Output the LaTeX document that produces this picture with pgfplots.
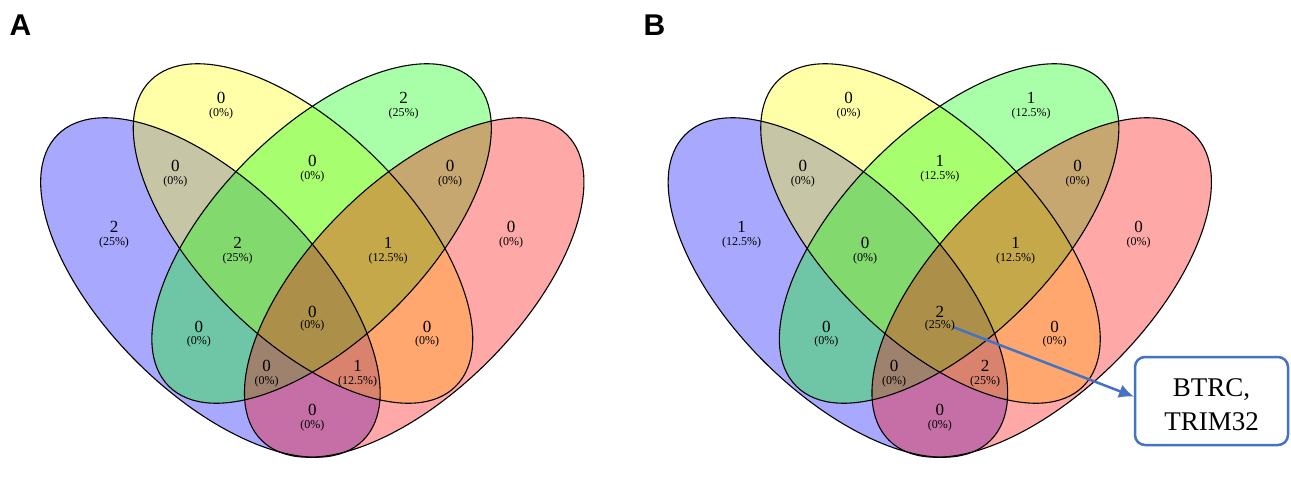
\documentclass[border=0pt]{standalone}
\usepackage{pgfplots}
\pgfplotsset{compat=1.18}
\usepackage{pgfplotstable}
\usepackage{fontspec}
\setmainfont{Liberation Serif}
\newfontfamily\headfont{Liberation Sans}
\usetikzlibrary{arrows.meta}

\definecolor{vblue}{RGB}{0,0,255}
\definecolor{vyellow}{RGB}{255,255,0}
\definecolor{vgreen}{RGB}{0,255,0}
\definecolor{vred}{RGB}{255,0,0}
\definecolor{boxblue}{RGB}{68,114,196}

% region label positions (x, y of count, y of percent), count, percent
\pgfplotstableread{
x     yn    yp    n  p
114   231   215   2  25
221   360   344   0  0
403.7 360   344   2  25
511   231   215   0  0
175.4 292   276   0  0
312.3 297   281   0  0
450   292   276   0  0
237.7 215   199   2  25
388   215   199   1  12.5
198.8 131   116   0  0
427   131   116   0  0
312.3 146   132   0  0
266.7 92    76   0  0
357.5 92    76   1  12.5
312.3 48    32   0  0
}\vennA

\pgfplotstableread{
x      yn    yp    n  p
741.5  231   215   1  12.5
848.5  360   344   0  0
1031.2 360   344   1  12.5
1138.5 231   215   0  0
802.9  292   276   0  0
939.8  297   281   1  12.5
1077.5 292   276   0  0
865.2  215   199   0  0
1015.5 215   199   1  12.5
826.3  131   116   0  0
1054.5 131   116   0  0
939.8  146   132   2  25
894.2  92    76   0  0
985    92    76   2  25
939.8  48    32   0  0
}\vennB

\pgfplotsset{
  cnt/.style={draw=none, mark=none, nodes near coords, point meta=explicit symbolic,
    nodes near coords style={anchor=center, inner sep=0pt, font=\fontsize{17}{17}\selectfont}},
  pct/.style={draw=none, mark=none, nodes near coords={(\pgfplotspointmeta\%)}, point meta=explicit symbolic,
    nodes near coords style={anchor=center, inner sep=0pt, font=\fontsize{12}{12}\selectfont}},
}

\begin{document}
\begin{tikzpicture}
\begin{axis}[
    x=1pt, y=1pt,
    xmin=0, xmax=1291, ymin=0, ymax=458,
    hide axis, clip=false,
]
\addplot[draw=none, mark=none] coordinates {(0,0) (1291,458)};

% panel A fills
\fill[vblue, fill opacity=0.34, rotate around={-45:(axis cs:210.4,170.5)}] (axis cs:210.4,170.5) ellipse [x radius=216pt, y radius=104.6pt];
\fill[vyellow, fill opacity=0.34, rotate around={-45:(axis cs:303,224.5)}] (axis cs:303,224.5) ellipse [x radius=216pt, y radius=104.6pt];
\fill[vgreen, fill opacity=0.34, rotate around={45:(axis cs:321.6,224.5)}] (axis cs:321.6,224.5) ellipse [x radius=216pt, y radius=104.6pt];
\fill[vred, fill opacity=0.34, rotate around={45:(axis cs:414.2,170.5)}] (axis cs:414.2,170.5) ellipse [x radius=216pt, y radius=104.6pt];
% panel A outlines
\draw[line width=1.1pt, rotate around={-45:(axis cs:210.4,170.5)}] (axis cs:210.4,170.5) ellipse [x radius=216pt, y radius=104.6pt];
\draw[line width=1.1pt, rotate around={-45:(axis cs:303,224.5)}] (axis cs:303,224.5) ellipse [x radius=216pt, y radius=104.6pt];
\draw[line width=1.1pt, rotate around={45:(axis cs:321.6,224.5)}] (axis cs:321.6,224.5) ellipse [x radius=216pt, y radius=104.6pt];
\draw[line width=1.1pt, rotate around={45:(axis cs:414.2,170.5)}] (axis cs:414.2,170.5) ellipse [x radius=216pt, y radius=104.6pt];

% panel B fills
\fill[vblue, fill opacity=0.34, rotate around={-45:(axis cs:837.9,170.5)}] (axis cs:837.9,170.5) ellipse [x radius=216pt, y radius=104.6pt];
\fill[vyellow, fill opacity=0.34, rotate around={-45:(axis cs:930.5,224.5)}] (axis cs:930.5,224.5) ellipse [x radius=216pt, y radius=104.6pt];
\fill[vgreen, fill opacity=0.34, rotate around={45:(axis cs:949.1,224.5)}] (axis cs:949.1,224.5) ellipse [x radius=216pt, y radius=104.6pt];
\fill[vred, fill opacity=0.34, rotate around={45:(axis cs:1041.7,170.5)}] (axis cs:1041.7,170.5) ellipse [x radius=216pt, y radius=104.6pt];
% panel B outlines
\draw[line width=1.1pt, rotate around={-45:(axis cs:837.9,170.5)}] (axis cs:837.9,170.5) ellipse [x radius=216pt, y radius=104.6pt];
\draw[line width=1.1pt, rotate around={-45:(axis cs:930.5,224.5)}] (axis cs:930.5,224.5) ellipse [x radius=216pt, y radius=104.6pt];
\draw[line width=1.1pt, rotate around={45:(axis cs:949.1,224.5)}] (axis cs:949.1,224.5) ellipse [x radius=216pt, y radius=104.6pt];
\draw[line width=1.1pt, rotate around={45:(axis cs:1041.7,170.5)}] (axis cs:1041.7,170.5) ellipse [x radius=216pt, y radius=104.6pt];

% counts and percentages
\addplot[cnt] table[x=x, y=yn, meta=n] {\vennA};
\addplot[pct] table[x=x, y=yp, meta=p] {\vennA};
\addplot[cnt] table[x=x, y=yn, meta=n] {\vennB};
\addplot[pct] table[x=x, y=yp, meta=p] {\vennB};

% panel letters
\node[font=\headfont\bfseries\fontsize{30}{30}\selectfont] at (axis cs:20.5,433) {A};
\node[font=\headfont\bfseries\fontsize{30}{30}\selectfont] at (axis cs:654.5,433) {B};

% callout
\draw[boxblue, line width=2.5pt, -{Latex[length=15pt,width=14pt]}] (axis cs:953,131) -- (axis cs:1134,61.3);
\draw[boxblue, line width=2.5pt, fill=white, rounded corners=10pt] (axis cs:1135,101) rectangle (axis cs:1288,13);
\node[anchor=base, font=\fontsize{27}{27}\selectfont] at (axis cs:1211.5,61.3) {BTRC,};
\node[anchor=base, font=\fontsize{27}{27}\selectfont] at (axis cs:1211.5,28) {TRIM32};
\end{axis}
\end{tikzpicture}
\end{document}
